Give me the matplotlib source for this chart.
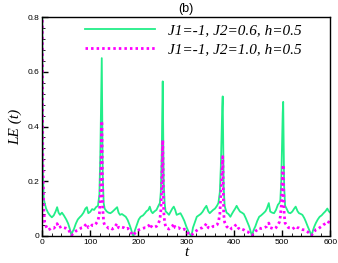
import matplotlib
matplotlib.use('Agg')
import matplotlib.pyplot as plt
from matplotlib.ticker import MultipleLocator

# LE(t), two couplings
t = [0, 1, 3, 5, 8, 12, 16, 20, 24, 28, 31, 34, 37, 41, 45, 50, 54, 57, 59, 61,
     63, 66, 70, 74, 78, 82, 86, 90, 93, 96, 100, 104, 108, 112, 116, 119, 121, 123, 124, 125, 126, 128, 130,
     134, 138, 142, 146, 150, 153, 156, 159, 162, 166, 170, 174, 178, 182, 185, 187, 190,
     193, 197, 201, 205, 210, 214, 217, 221, 224, 227, 230, 234, 238, 242, 245, 247, 249, 250, 251, 252, 253, 255, 257,
     260, 264, 268, 271, 274, 277, 280, 284, 288, 292, 296, 300, 303, 306, 309, 311,
     314, 318, 322, 326, 330, 334, 338, 342, 346, 349, 352, 356, 360, 364, 367, 370, 372, 374, 375, 376, 377, 378, 380,
     384, 388, 392, 395, 398, 402, 405, 408, 412, 416, 420, 424, 428, 431, 434, 437,
     440, 444, 448, 452, 456, 461, 465, 468, 472, 475, 479, 483, 487, 491, 494, 496, 498, 500, 501, 502, 503, 504, 506,
     509, 513, 517, 521, 525, 528, 532, 535, 539, 542, 546, 549, 553, 556, 559, 561,
     564, 567, 570, 574, 578, 582, 586, 590, 594, 597, 600]

le_j06 = [0.85, 0.25, 0.14, 0.12, 0.1, 0.085, 0.075, 0.068, 0.075, 0.09, 0.105, 0.085, 0.077, 0.085, 0.075, 0.06, 0.045, 0.028, 0.015, 0.0,
          0.015, 0.025, 0.045, 0.06, 0.068, 0.075, 0.085, 0.1, 0.105, 0.083, 0.088, 0.098, 0.095, 0.105, 0.11, 0.15, 0.3, 0.55, 0.65, 0.45, 0.22, 0.12, 0.1,
          0.09, 0.085, 0.083, 0.088, 0.095, 0.1, 0.105, 0.085, 0.077, 0.08, 0.075, 0.07, 0.058, 0.04, 0.025, 0.012, 0.0,
          0.02, 0.04, 0.06, 0.07, 0.075, 0.083, 0.09, 0.095, 0.107, 0.09, 0.083, 0.09, 0.095, 0.11, 0.12, 0.16, 0.3, 0.45, 0.565, 0.4, 0.2, 0.12, 0.09,
          0.085, 0.077, 0.09, 0.1, 0.107, 0.095, 0.077, 0.08, 0.083, 0.07, 0.055, 0.035, 0.023, 0.01, 0.003, 0.0,
          0.03, 0.05, 0.07, 0.075, 0.08, 0.088, 0.1, 0.11, 0.09, 0.083, 0.088, 0.095, 0.1, 0.11, 0.12, 0.16, 0.25, 0.4, 0.47, 0.51, 0.35, 0.18, 0.11,
          0.085, 0.08, 0.07, 0.08, 0.089, 0.1, 0.11, 0.1, 0.089, 0.085, 0.08, 0.065, 0.048, 0.035, 0.018, 0.0,
          0.02, 0.035, 0.055, 0.07, 0.075, 0.083, 0.09, 0.1, 0.12, 0.089, 0.085, 0.083, 0.095, 0.114, 0.12, 0.13, 0.2, 0.38, 0.45, 0.49, 0.35, 0.18, 0.11,
          0.1, 0.085, 0.083, 0.089, 0.1, 0.107, 0.09, 0.083, 0.08, 0.077, 0.065, 0.053, 0.035, 0.023, 0.01, 0.0,
          0.02, 0.035, 0.047, 0.06, 0.07, 0.075, 0.083, 0.09, 0.1, 0.09, 0.085]

le_j10 = [0.85, 0.3, 0.1, 0.05, 0.035, 0.022, 0.025, 0.03, 0.028, 0.035, 0.045, 0.03, 0.032, 0.035, 0.03, 0.028, 0.025, 0.015, 0.008, 0.002,
          0.006, 0.012, 0.018, 0.02, 0.025, 0.03, 0.032, 0.04, 0.045, 0.03, 0.032, 0.04, 0.038, 0.045, 0.055, 0.08, 0.15, 0.3, 0.42, 0.25, 0.1, 0.05, 0.04,
          0.035, 0.028, 0.03, 0.025, 0.03, 0.038, 0.045, 0.03, 0.028, 0.032, 0.03, 0.025, 0.028, 0.02, 0.012, 0.006, 0.002,
          0.01, 0.018, 0.022, 0.025, 0.028, 0.03, 0.03, 0.035, 0.045, 0.035, 0.03, 0.032, 0.035, 0.045, 0.06, 0.09, 0.18, 0.28, 0.35, 0.2, 0.09, 0.05, 0.035,
          0.028, 0.025, 0.03, 0.035, 0.045, 0.03, 0.028, 0.03, 0.025, 0.022, 0.025, 0.018, 0.012, 0.006, 0.003, 0.002,
          0.008, 0.015, 0.02, 0.025, 0.028, 0.03, 0.035, 0.045, 0.03, 0.028, 0.03, 0.035, 0.035, 0.04, 0.05, 0.08, 0.15, 0.22, 0.26, 0.29, 0.18, 0.08, 0.05,
          0.035, 0.028, 0.023, 0.029, 0.03, 0.038, 0.041, 0.03, 0.023, 0.025, 0.022, 0.017, 0.015, 0.011, 0.006, 0.002,
          0.008, 0.017, 0.022, 0.029, 0.027, 0.029, 0.032, 0.035, 0.047, 0.03, 0.028, 0.025, 0.03, 0.041, 0.05, 0.07, 0.11, 0.2, 0.24, 0.26, 0.15, 0.08, 0.047,
          0.04, 0.03, 0.029, 0.025, 0.03, 0.035, 0.03, 0.029, 0.025, 0.023, 0.022, 0.02, 0.015, 0.01, 0.005, 0.002,
          0.01, 0.015, 0.023, 0.025, 0.03, 0.035, 0.041, 0.045, 0.053, 0.05, 0.048]

labels = ['J1=-1, J2=0.6, h=0.5', 'J1=-1, J2=1.0, h=0.5']

serif = ['Liberation Serif', 'DejaVu Serif']
sans = ['Liberation Sans', 'DejaVu Sans']

fig = plt.figure(figsize=(3.38, 2.63), dpi=100)
ax = fig.add_axes([0.125, 0.103, 0.852, 0.832])

ax.plot(t, le_j06, color='#22EE88', lw=1.3, label=labels[0])
ax.plot(t, le_j10, color='#FF00FF', lw=2.0, ls=(0, (0.9, 1.1)),
        dash_capstyle='butt', label=labels[1])

ax.set_xlim(0, 600)
ax.set_ylim(0, 0.8)
ax.xaxis.set_major_locator(MultipleLocator(100))
ax.xaxis.set_minor_locator(MultipleLocator(20))
ax.yaxis.set_major_locator(MultipleLocator(0.2))
ax.yaxis.set_minor_locator(MultipleLocator(0.04))
ax.set_yticks([0, 0.2, 0.4, 0.6, 0.8])
ax.set_yticklabels(['0', '0.2', '0.4', '0.6', '0.8'])
ax.tick_params(which='both', direction='in', labelsize=6, pad=2)
ax.tick_params(which='major', length=4, width=1)
ax.tick_params(which='minor', length=2, width=0.6)
for lab in ax.get_xticklabels() + ax.get_yticklabels():
    lab.set_family(sans)
for sp in ax.spines.values():
    sp.set_linewidth(1.0)

ax.set_xlabel('t', family=serif, style='italic', fontsize=11, labelpad=0)
ax.set_ylabel('LE (t)', family=serif, style='italic', fontsize=11, labelpad=4)
ax.set_title('(b)', family=sans, fontsize=9, pad=4)

leg = ax.legend(loc='upper left', bbox_to_anchor=(0.128, 0.998), frameon=False,
                handlelength=4.6, handletextpad=0.8, labelspacing=0.35,
                borderaxespad=0,
                prop={'family': serif, 'style': 'italic', 'size': 11})

fig.savefig('out.png', dpi=100)
